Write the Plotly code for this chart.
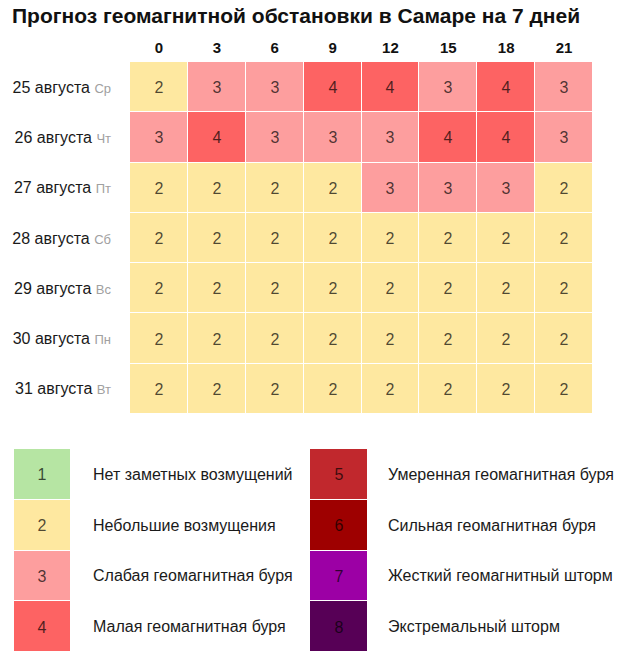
import plotly.graph_objects as go

title = "Прогноз геомагнитной обстановки в Самаре на 7 дней"
hours = [0, 3, 6, 9, 12, 15, 18, 21]
dates = ["25 августа", "26 августа", "27 августа", "28 августа",
         "29 августа", "30 августа", "31 августа"]
weekdays = ["Ср", "Чт", "Пт", "Сб", "Вс", "Пн", "Вт"]
kp = [
    [2, 3, 3, 4, 4, 3, 4, 3],
    [3, 4, 3, 3, 3, 4, 4, 3],
    [2, 2, 2, 2, 3, 3, 3, 2],
    [2, 2, 2, 2, 2, 2, 2, 2],
    [2, 2, 2, 2, 2, 2, 2, 2],
    [2, 2, 2, 2, 2, 2, 2, 2],
    [2, 2, 2, 2, 2, 2, 2, 2],
]
levels = [1, 2, 3, 4, 5, 6, 7, 8]
level_names = [
    "Нет заметных возмущений",
    "Небольшие возмущения",
    "Слабая геомагнитная буря",
    "Малая геомагнитная буря",
    "Умеренная геомагнитная буря",
    "Сильная геомагнитная буря",
    "Жесткий геомагнитный шторм",
    "Экстремальный шторм",
]
level_colors = ["#b6e5a3", "#fee8a0", "#fd9e9e", "#fd6363",
                "#c1282d", "#9e0000", "#9c00a5", "#570056"]

W, H = 628, 661
FONT = "Liberation Sans, Arial, sans-serif"

# discrete colorscale
n = len(levels)
cs = []
for i, c in enumerate(level_colors):
    cs.append([i / n, c])
    cs.append([(i + 1) / n, c])
zmin, zmax = levels[0] - 0.5, levels[-1] + 0.5

txtcolor = "rgba(0,0,0,0.7)"

fig = go.Figure()
fig.add_trace(go.Heatmap(
    z=kp, x=list(range(len(hours))), y=list(range(len(dates))),
    colorscale=cs, zmin=zmin, zmax=zmax, showscale=False,
    xgap=1, ygap=1, texttemplate="%{z}",
    textfont=dict(size=16, color=txtcolor, family=FONT),
    hoverinfo="skip", xaxis="x", yaxis="y",
))

half = n // 2
left_z = [[v] for v in levels[:half]]
right_z = [[v] for v in levels[half:]]
for zz, xa in ((left_z, "x2"), (right_z, "x3")):
    fig.add_trace(go.Heatmap(
        z=zz, x=[0], y=list(range(half)),
        colorscale=cs, zmin=zmin, zmax=zmax, showscale=False,
        xgap=0, ygap=1, texttemplate="%{z}",
        textfont=dict(size=16, color=txtcolor, family=FONT),
        hoverinfo="skip", xaxis=xa, yaxis="y2",
    ))


def px(v):
    return v / W


def py(v):
    return 1 - v / H


ytick = [f"{d} <span style='color:#a0a0a0;font-size:13px'>{w}</span>"
         for d, w in zip(dates, weekdays)]

annotations = []
for i, name in enumerate(level_names):
    col = i // half
    row = i % half
    annotations.append(dict(
        text=name, xref="paper", yref="y2", x=px(91 if col == 0 else 386), y=row,
        xanchor="left", yanchor="middle", showarrow=False,
        font=dict(size=16, color="#1a1a1a", family=FONT),
    ))

fig.update_layout(
    width=W, height=H,
    margin=dict(l=0, r=0, t=0, b=0),
    paper_bgcolor="white", plot_bgcolor="white",
    font=dict(family=FONT, color="#1a1a1a"),
    title=dict(text=f"<b>{title}</b>", x=px(12), xanchor="left",
               y=py(16), yanchor="middle", xref="paper", yref="paper",
               font=dict(size=21, color="#111", family=FONT)),
    xaxis=dict(domain=[px(130), px(593)], range=[-0.5, len(hours) - 0.5],
               side="top", tickvals=list(range(len(hours))),
               ticktext=[f"<b>{h}</b>" for h in hours],
               tickfont=dict(size=15, color="#111", family=FONT),
               showgrid=False, zeroline=False, showline=False, ticks="",
               ticklabelstandoff=5, anchor="y", fixedrange=True),
    yaxis=dict(domain=[py(414), py(62)], range=[len(dates) - 0.5, -0.5],
               tickvals=list(range(len(dates))), ticktext=ytick,
               tickfont=dict(size=16, color="#1a1a1a", family=FONT),
               showgrid=False, zeroline=False, showline=False, ticks="",
               ticklabelstandoff=18, anchor="x", fixedrange=True),
    xaxis2=dict(domain=[px(14), px(70)], range=[-0.5, 0.5], visible=False,
                anchor="y2", fixedrange=True),
    xaxis3=dict(domain=[px(310), px(367)], range=[-0.5, 0.5], visible=False,
                anchor="y2", fixedrange=True),
    yaxis2=dict(domain=[py(652), py(449)], range=[half - 0.5, -0.5],
                visible=False, anchor="x2", fixedrange=True),
    annotations=annotations,
)

fig.write_html(
    "out.html",
    config={"displayModeBar": False},
    post_script="document.body.style.margin='0';document.body.style.overflow='hidden';",
)
